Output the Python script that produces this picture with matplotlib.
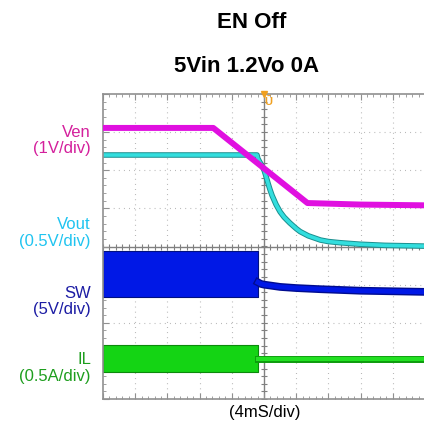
import matplotlib
matplotlib.use("Agg")
import matplotlib.pyplot as plt
import numpy as np
from matplotlib.ticker import MultipleLocator

plt.rcParams['font.family'] = ['Liberation Sans', 'DejaVu Sans']

# time axis in ms (4 ms/div, trigger at 0), values in screen divisions
# Ven (1V/div)
t_ven = [-20, -6.3, 5.4, 12, 20]
ven = [3.11, 3.11, 1.14, 1.10, 1.08]

# Vout (0.5V/div)
t_vout = [-20, -0.87, -0.75, -0.4, 0, 0.25, 0.5, 0.75, 1.0, 1.5, 2.0, 2.5,
          3.2, 4.0, 4.5, 5.5, 7.0, 8.0, 9.4, 11.9, 15.0, 20]
vout = [2.40, 2.40, 2.30, 2.17, 2.01, 1.84, 1.66, 1.49, 1.34, 1.10, 0.91, 0.77,
        0.62, 0.47, 0.39, 0.28, 0.17, 0.13, 0.10, 0.06, 0.03, 0.01]

# SW (5V/div): switching band before EN off, then decaying trace
sw_on_t = [-20, -0.75]
sw_top = [-0.12, -0.12]
sw_bot = [-1.33, -1.33]
t_sw = [-0.75, -0.4, 0, 1.0, 2.0, 4.0, 7.0, 12.0, 20]
sw = [-0.94, -0.98, -1.00, -1.03, -1.06, -1.09, -1.12, -1.16, -1.19]

# IL (0.5A/div)
il_on_t = [-20, -0.75]
il_top = [-2.59, -2.59]
il_bot = [-3.29, -3.29]
t_il = [-0.75, 20]
il = [-2.94, -2.94]

fig = plt.figure(figsize=(4.24, 4.28), dpi=100)
ax = fig.add_axes([103 / 424, 1 - 399 / 428, 322 / 424, 305 / 428])
ax.set_xlim(-20, 20)
ax.set_ylim(-4, 4)

grid_c = '#b0b0b0'
for gx in np.arange(-16, 20, 4):
    if gx != 0:
        ax.axvline(gx, color=grid_c, lw=0.8, dashes=(0.8, 3.8), zorder=0)
for gy in np.arange(-3, 4, 1):
    if gy != 0:
        ax.axhline(gy, color=grid_c, lw=0.8, dashes=(0.8, 3.8), zorder=0)
ax.axvline(0, color='#808080', lw=1.0, zorder=0)
ax.axhline(0, color='#808080', lw=1.0, zorder=0)
# crosshair minor ticks
mx = np.arange(-20, 20.01, 0.8)
my = np.arange(-4, 4.01, 0.2)
ax.plot(mx, np.zeros_like(mx), ls='none', marker='|', ms=4, color='#808080', mew=0.8, zorder=0)
ax.plot(np.zeros_like(my), my, ls='none', marker='_', ms=4, color='#808080', mew=0.8, zorder=0)

for s in ax.spines.values():
    s.set_color('#909090')
    s.set_linewidth(1.2)
ax.xaxis.set_major_locator(MultipleLocator(4))
ax.xaxis.set_minor_locator(MultipleLocator(0.8))
ax.yaxis.set_major_locator(MultipleLocator(1))
ax.yaxis.set_minor_locator(MultipleLocator(0.2))
ax.tick_params(which='both', direction='in', colors='#909090', top=True,
               labelbottom=False, labelleft=False)
ax.tick_params(which='major', length=4)
ax.tick_params(which='minor', length=2.5)

# traces
ax.plot(t_ven, ven, color='#e010e0', lw=4.3, solid_capstyle='butt', zorder=3)
ax.plot(t_vout, vout, color='#1a8f8f', lw=4.0, zorder=2)
ax.plot(t_vout, vout, color='#33dede', lw=2.6, zorder=2)

ax.fill_between(sw_on_t, sw_bot, sw_top, color='#0018e6', edgecolor='#001080', lw=0.8, zorder=2)
ax.plot(t_sw, sw, color='#000c90', lw=5.6, zorder=2)
ax.plot(t_sw, sw, color='#0018e6', lw=3.6, zorder=2)

ax.fill_between(il_on_t, il_bot, il_top, color='#14d414', edgecolor='#0c8a0c', lw=0.8, zorder=2)
ax.plot(t_il, il, color='#0c9a0c', lw=5.0, zorder=2)
ax.plot(t_il, il, color='#22e022', lw=3.0, zorder=2)

# trigger markers
ax.plot([0], [4.0], marker='v', color='#f0a020', ms=5, clip_on=False, zorder=5)
ax.text(0.55, 3.78, 'Ū', color='#f0a020', fontsize=8, fontweight='bold',
        ha='center', va='center', zorder=5)

# titles
fig.text(252 / 424, 1 - 23 / 428, 'EN Off', ha='center', va='center',
         fontsize=16, fontweight='bold')
fig.text(247 / 424, 1 - 67 / 428, '5Vin 1.2Vo 0A', ha='center', va='center',
         fontsize=16, fontweight='bold')

labels = [('Ven\n(1V/div)', '#d4209c', 140.5),
          ('Vout\n(0.5V/div)', '#20c4f0', 233),
          ('SW\n(5V/div)', '#1c1ca4', 301.5),
          ('IL\n(0.5A/div)', '#1e9e1e', 368)]
for txt, c, yp in labels:
    fig.text(91 / 424, 1 - yp / 428, txt, ha='right', va='center',
             color=c, fontsize=12, linespacing=1.15)

fig.text(265 / 424, 1 - 413 / 428, '(4mS/div)', ha='center', va='center', fontsize=12)

fig.savefig('out.png', dpi=100)
